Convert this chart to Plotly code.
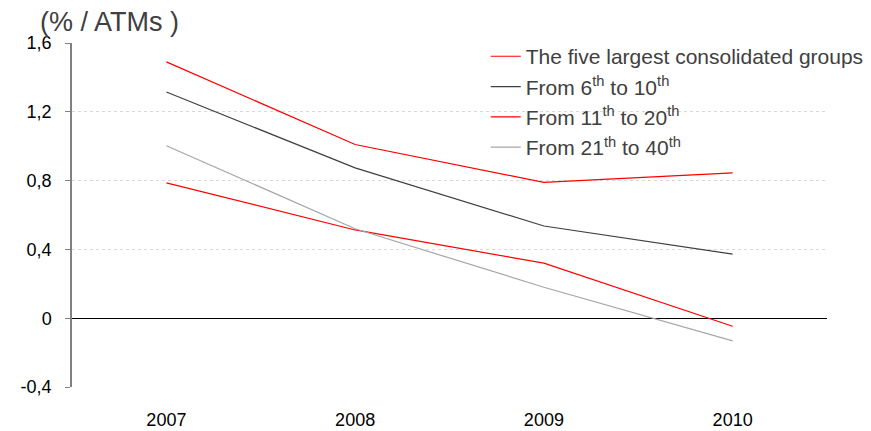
import plotly.graph_objects as go

years = ["2007", "2008", "2009", "2010"]
top5 = [1.49, 1.01, 0.79, 0.845]
from6to10 = [1.315, 0.874, 0.536, 0.373]
from11to20 = [0.787, 0.513, 0.32, -0.047]
from21to40 = [1.003, 0.52, 0.18, -0.132]

y_ticks = [-0.4, 0, 0.4, 0.8, 1.2, 1.6]
y_tick_labels = ["-0,4", "0", "0,4", "0,8", "1,2", "1,6"]

series = [
    ("The five largest consolidated groups", top5, "#ff0000"),
    ("From 6<sup>th</sup> to 10<sup>th</sup>", from6to10, "#404040"),
    ("From 11<sup>th</sup> to 20<sup>th</sup>", from11to20, "#ff0000"),
    ("From 21<sup>th</sup> to 40<sup>th</sup>", from21to40, "#a6a6a6"),
]

fig = go.Figure()
for name, vals, color in series:
    fig.add_trace(go.Scatter(
        x=years, y=vals, name=name, mode="lines",
        line=dict(color=color, width=1.2),
    ))

fig.update_layout(
    width=871, height=431,
    margin=dict(l=72, r=44, t=43, b=44, autoexpand=False),
    paper_bgcolor="white", plot_bgcolor="white",
    font=dict(family="Liberation Sans, Arial, sans-serif", color="#000000"),
    title=dict(
        text="(% / ATMs )", x=0.046, xref="container", xanchor="left",
        y=0.95, yref="container", yanchor="middle",
        font=dict(size=27, color="#404040"),
    ),
    showlegend=True,
    legend=dict(
        x=0.548, xanchor="left", y=1.02, yanchor="top",
        bgcolor="rgba(0,0,0,0)", font=dict(size=21, color="#404040"),
        tracegroupgap=0, itemwidth=30,
    ),
    xaxis=dict(
        type="category", range=[-0.5, 3.5], automargin=False,
        showgrid=False, showline=False, zeroline=False,
        ticks="", tickfont=dict(size=18, color="#000000"),
        ticklabelstandoff=20,
    ),
    yaxis=dict(
        range=[-0.4, 1.6], tickvals=y_ticks, ticktext=y_tick_labels,
        automargin=False,
        showgrid=True, gridcolor="#d9d9d9", griddash="dot", gridwidth=1,
        zeroline=True, zerolinecolor="#000000", zerolinewidth=1.3,
        showline=True, linecolor="#808080", linewidth=1.5,
        ticks="outside", ticklen=5, tickcolor="#808080",
        tickfont=dict(size=18, color="#000000"),
        ticklabelstandoff=10,
    ),
)

fig.write_html("out.html")
